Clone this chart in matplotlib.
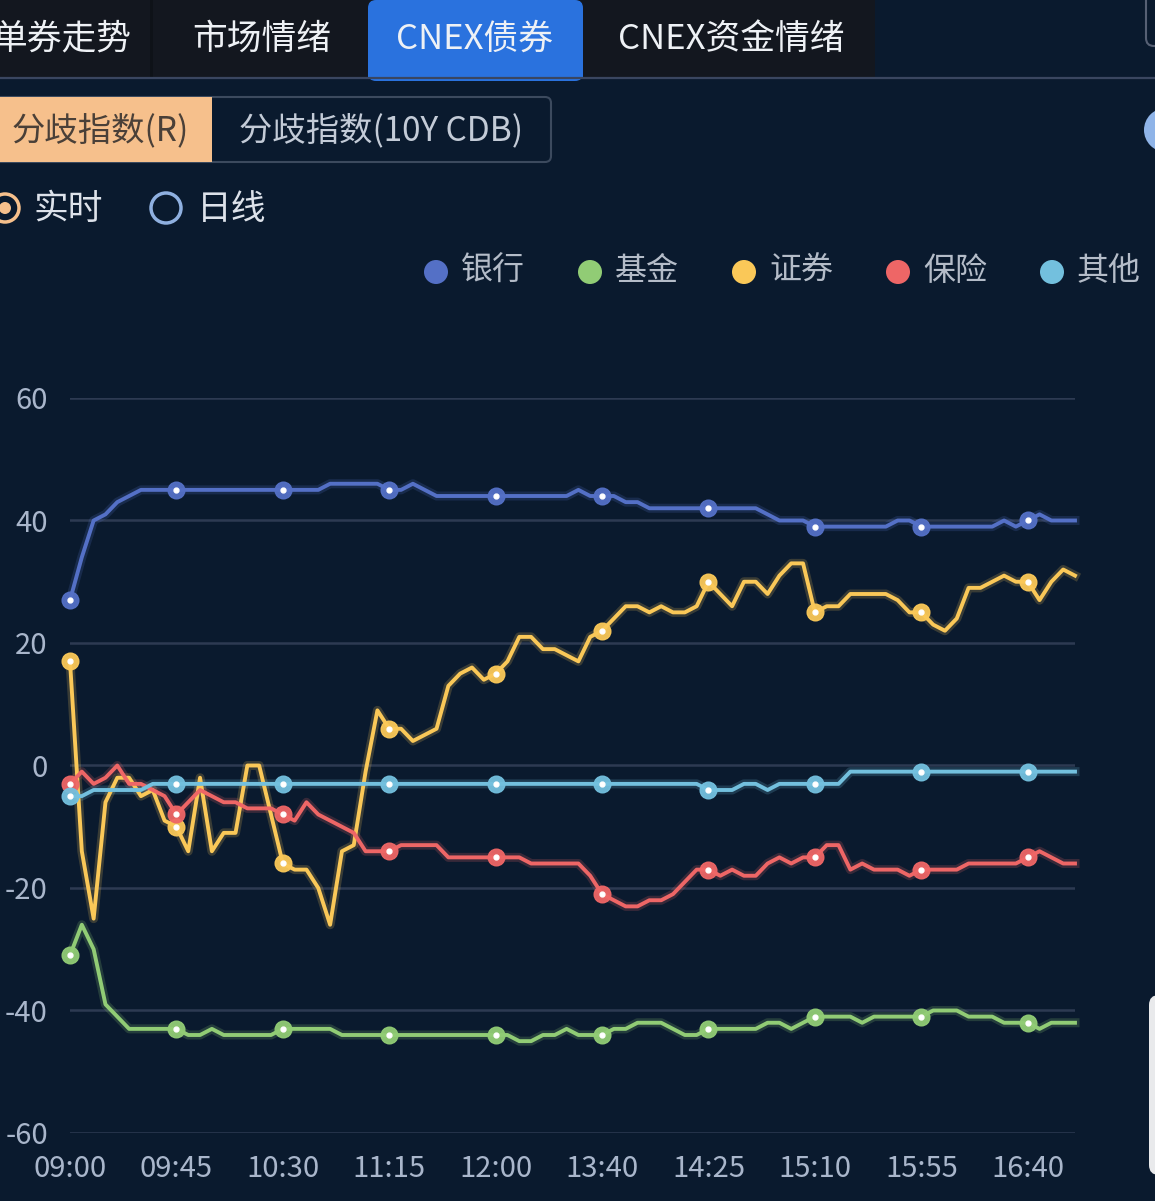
import matplotlib
matplotlib.use('Agg')
import matplotlib.pyplot as plt
from matplotlib.patches import Rectangle, FancyBboxPatch, Circle
import numpy as np
import pandas as pd

plt.rcParams['font.family'] = ['Noto Sans CJK SC', 'DejaVu Sans']

# time axis: morning 09:00-12:00, afternoon 13:00-17:00, 5 min steps
times = list(pd.date_range('2024-01-01 09:00', '2024-01-01 12:00', freq='5min').strftime('%H:%M')) + \
        list(pd.date_range('2024-01-01 13:00', '2024-01-01 17:00', freq='5min').strftime('%H:%M'))

series_names = ['银行', '基金', '证券', '保险', '其他']
series_colors = ['#5470c6', '#91cc75', '#fac858', '#ee6666', '#73c0de']

bank = [27, 34, 40, 41, 43, 44, 45, 45, 45, 45,
        45, 45, 45, 45, 45, 45, 45, 45, 45, 45,
        45, 45, 46, 46, 46, 46, 46, 45, 45, 46,
        45, 44, 44, 44, 44, 44, 44, 44, 44, 44,
        44, 44, 44, 45, 44, 44, 44, 43, 43, 42,
        42, 42, 42, 42, 42, 42, 42, 42, 42, 41,
        40, 40, 40, 39, 39, 39, 39, 39, 39, 39,
        40, 40, 39, 39, 39, 39, 39, 39, 39, 40,
        39, 40, 41, 40, 40, 40]

fund = [-31, -26, -30, -39, -41, -43, -43, -43, -43, -43,
        -44, -44, -43, -44, -44, -44, -44, -44, -43, -43,
        -43, -43, -43, -44, -44, -44, -44, -44, -44, -44,
        -44, -44, -44, -44, -44, -44, -44, -44, -45, -45,
        -44, -44, -43, -44, -44, -44, -43, -43, -42, -42,
        -42, -43, -44, -44, -43, -43, -43, -43, -43, -42,
        -42, -43, -42, -41, -41, -41, -41, -42, -41, -41,
        -41, -41, -41, -40, -40, -40, -41, -41, -41, -42,
        -42, -42, -43, -42, -42, -42]

broker = [17, -14, -25, -6, -2, -2, -5, -4, -9, -10,
          -14, -2, -14, -11, -11, 0, 0, -8, -16, -17,
          -17, -20, -26, -14, -13, -1, 9, 6, 6, 4,
          5, 6, 13, 15, 16, 14, 15, 17, 21, 21,
          19, 19, 18, 17, 21, 22, 24, 26, 26, 25,
          26, 25, 25, 26, 30, 28, 26, 30, 30, 28,
          31, 33, 33, 25, 26, 26, 28, 28, 28, 28,
          27, 25, 25, 23, 22, 24, 29, 29, 30, 31,
          30, 30, 27, 30, 32, 31]

insurance = [-3, -1, -3, -2, 0, -3, -3, -4, -5, -8,
             -6, -4, -5, -6, -6, -7, -7, -7, -8, -9,
             -6, -8, -9, -10, -11, -14, -14, -14, -13, -13,
             -13, -13, -15, -15, -15, -15, -15, -15, -15, -16,
             -16, -16, -16, -16, -18, -21, -22, -23, -23, -22,
             -22, -21, -19, -17, -17, -18, -17, -18, -18, -16,
             -15, -16, -15, -15, -13, -13, -17, -16, -17, -17,
             -17, -18, -17, -17, -17, -17, -16, -16, -16, -16,
             -16, -15, -14, -15, -16, -16]

other = [-5, -5, -4, -4, -4, -4, -4, -3, -3, -3,
         -3, -3, -3, -3, -3, -3, -3, -3, -3, -3,
         -3, -3, -3, -3, -3, -3, -3, -3, -3, -3,
         -3, -3, -3, -3, -3, -3, -3, -3, -3, -3,
         -3, -3, -3, -3, -3, -3, -3, -3, -3, -3,
         -3, -3, -3, -3, -4, -4, -4, -3, -3, -4,
         -3, -3, -3, -3, -3, -3, -1, -1, -1, -1,
         -1, -1, -1, -1, -1, -1, -1, -1, -1, -1,
         -1, -1, -1, -1, -1, -1]

tabs = ['单券走势', '市场情绪', 'CNEX债券', 'CNEX资金情绪']
y_ticks = [-60, -40, -20, 0, 20, 40, 60]

BG = '#0a1a2e'
W, H = 1155, 1201

fig = plt.figure(figsize=(W / 100, H / 100), dpi=100, facecolor=BG)

# UI layer in pixel coordinates
ui = fig.add_axes([0, 0, 1, 1])
ui.set_xlim(0, W)
ui.set_ylim(H, 0)
ui.axis('off')

# tab strip
ui.add_patch(Rectangle((0, 0), 875, 77, facecolor='#13171f', edgecolor='none'))
ui.add_patch(Rectangle((150, 0), 3, 77, facecolor='#0e1218', edgecolor='none'))
ui.add_patch(FancyBboxPatch((372, 4), 207, 73, boxstyle='round,pad=4,rounding_size=8',
                            facecolor='#2a72de', edgecolor='none'))
ui.add_patch(Rectangle((368, 40), 215, 37, facecolor='#2a72de', edgecolor='none'))
ui.plot([0, W], [78, 78], color='#3a4660', lw=1.6)
tab_x = [62, 262, 475, 731]
for tx, label in zip(tab_x, tabs):
    ui.text(tx, 39, label, color='#eef1f5', fontsize=25, ha='center', va='center')
ui.add_patch(FancyBboxPatch((1146, -20), 40, 66, boxstyle='round,pad=0,rounding_size=8',
                            facecolor='none', edgecolor='#566074', lw=1.5))

# index buttons
ui.add_patch(FancyBboxPatch((-20, 97), 571, 65, boxstyle='round,pad=0,rounding_size=6',
                            facecolor='none', edgecolor='#3c4a5e', lw=1.5))
ui.add_patch(Rectangle((-20, 97), 232, 65, facecolor='#f6c08c', edgecolor='none'))
ui.text(100, 131, '分歧指数(R)', color='#4a4038', fontsize=24, ha='center', va='center')
ui.text(381, 131, '分歧指数(10Y CDB)', color='#c3cbd7', fontsize=24, ha='center', va='center')
ui.add_patch(Circle((1166, 130), 22, facecolor='#8fb4e8', edgecolor='none'))

# radio buttons
ui.add_patch(Circle((5, 208), 14, facecolor='none', edgecolor='#f6c08c', lw=2.5))
ui.add_patch(Circle((5, 208), 6, facecolor='#f6c08c', edgecolor='none'))
ui.text(34, 209, '实时', color='#dde2ea', fontsize=25, ha='left', va='center')
ui.add_patch(Circle((166, 208), 15, facecolor='none', edgecolor='#8fb0e0', lw=2.5))
ui.text(197, 209, '日线', color='#dde2ea', fontsize=25, ha='left', va='center')

# legend
leg_x = [436, 590, 744, 898, 1052]
for lx, name, col in zip(leg_x, series_names, series_colors):
    ui.add_patch(Circle((lx, 272), 12, facecolor=col, edgecolor='none'))
    ui.text(lx + 25, 271, name, color='#b4bcc8', fontsize=23, ha='left', va='center')

# right edge widget
ui.add_patch(FancyBboxPatch((1149, 995), 40, 180, boxstyle='round,pad=0,rounding_size=10',
                            facecolor='#e9eaec', edgecolor='none'))

# chart
ax = fig.add_axes([70 / W, 1 - 1133 / H, (1075 - 70) / W, (1133 - 398) / H])
ax.set_facecolor('none')
x = np.arange(len(times))
all_series = [bank, fund, broker, insurance, other]
for vals, col in zip(all_series, series_colors):
    ax.plot(x, vals, color=col, lw=6.5, alpha=0.2, solid_joinstyle='round', zorder=2, clip_on=False)
    ax.plot(x, vals, color=col, lw=2.8, solid_joinstyle='round', zorder=3, clip_on=False)
    ax.plot(x[::9], np.array(vals)[::9], 'o', ms=12, mfc=col, mec=col, alpha=0.95, zorder=4, clip_on=False)
    ax.plot(x[::9], np.array(vals)[::9], 'o', ms=3.5, mfc='white', mec='white', zorder=5, clip_on=False)

ax.set_xlim(0, len(times) - 1)
ax.set_ylim(-60, 60)
ax.set_yticks(y_ticks)
ax.set_yticklabels([str(v) for v in y_ticks])
ax.set_xticks(x[::9])
ax.set_xticklabels([times[i] for i in x[::9]])
ax.grid(axis='y', color='#2d3a52', lw=1.8)
ax.grid(axis='x', visible=False)
ax.set_axisbelow(True)
for s in ax.spines.values():
    s.set_visible(False)
ax.tick_params(axis='both', length=0, colors='#a9b6cb', labelsize=21)
ax.tick_params(axis='y', pad=16)
ax.tick_params(axis='x', pad=15)

fig.savefig('out.png', dpi=100, facecolor=BG)
